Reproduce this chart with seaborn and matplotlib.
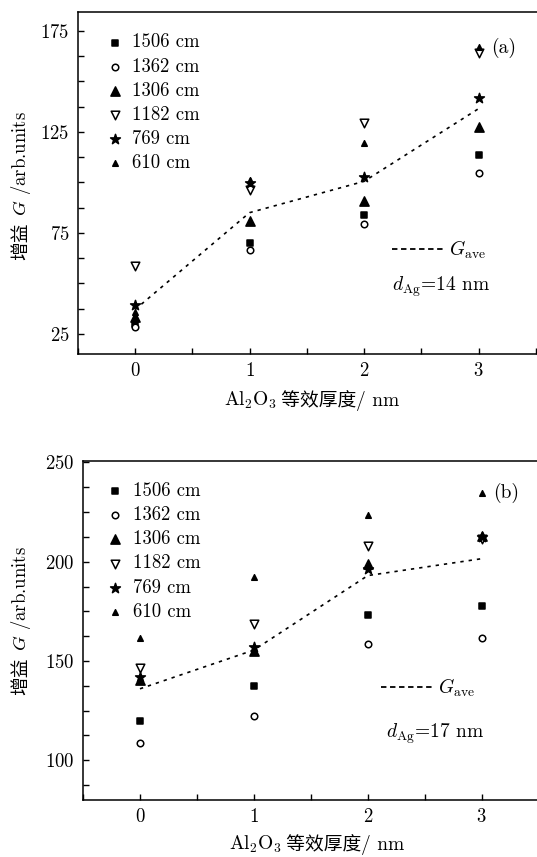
import numpy as np
import pandas as pd
import seaborn as sns
import matplotlib.pyplot as plt
import matplotlib.transforms as mtransforms
from matplotlib.lines import Line2D
from matplotlib.ticker import MultipleLocator

sns.set_style('ticks', {'axes.edgecolor': 'black', 'xtick.color': 'black', 'ytick.color': 'black',
                        'text.color': 'black', 'axes.labelcolor': 'black'})
plt.rcParams['font.family'] = ['cmr10', 'Noto Sans CJK SC']
plt.rcParams['mathtext.fontset'] = 'cm'
plt.rcParams['axes.formatter.use_mathtext'] = True

thickness = [0, 1, 2, 3]
peaks = ['1506', '1362', '1306', '1182', '769', '610']

# (a) d_Ag = 14 nm
g14_1506 = [30, 70, 84, 113.5]
g14_1362 = [28.5, 66.5, 79.5, 104.5]
g14_1306 = [33.5, 81, 91, 127.5]
g14_1182 = [58.5, 96, 129.5, 164]
g14_769 = [39.5, 99.5, 102.5, 142]
g14_610 = [36, 101, 119.5, 167]
gave14 = [37, 85, 100.5, 136.5]

# (b) d_Ag = 17 nm
g17_1506 = [120, 137.5, 173, 177.5]
g17_1362 = [108.5, 122.5, 158.5, 161.5]
g17_1306 = [140.5, 155, 199, 213]
g17_1182 = [146.5, 168.5, 208, 211.5]
g17_769 = [142, 157, 196.5, 212.5]
g17_610 = [161.5, 192.5, 223.5, 234.5]
gave17 = [136, 155.5, 193, 201.5]

yticks14 = [25, 75, 125, 175]
yticks17 = [100, 150, 200, 250]


def long_table(series):
    rows = []
    for p, vals in zip(peaks, series):
        for t, v in zip(thickness, vals):
            rows.append({'thickness': t, 'G': v, 'peak': p})
    return pd.DataFrame(rows)


df14 = long_table([g14_1506, g14_1362, g14_1306, g14_1182, g14_769, g14_610])
df17 = long_table([g17_1506, g17_1362, g17_1306, g17_1182, g17_769, g17_610])

marker_style = {
    '1506': dict(marker='s', s=24, facecolor='black'),
    '1362': dict(marker='o', s=22, facecolor='white'),
    '1306': dict(marker='^', s=44, facecolor='black'),
    '1182': dict(marker='v', s=38, facecolor='white'),
    '769': dict(marker='*', s=55, facecolor='black'),
    '610': dict(marker='^', s=16, facecolor='black'),
}

fig = plt.figure(figsize=(5.37, 8.57), dpi=100)
ax_a = fig.add_axes([0.1448, 0.5869, 0.8743, 0.3994])
ax_b = fig.add_axes([0.1546, 0.0665, 0.8696, 0.3956])

panels = [
    (ax_a, df14, gave14, (15, 184.5), yticks14, '(a)', (3.11, 166.8), r'$d_{\mathrm{Ag}}$=14 nm', (2.24, 48.2),
     (-0.26, 173.7), (2.247, 66.7), (0.275, -0.110), (0.774, -0.152)),
    (ax_b, df17, gave17, (80, 250.7), yticks17, '(b)', (3.105, 234.8), r'$d_{\mathrm{Ag}}$=17 nm', (2.163, 113.6),
     (-0.3, 240), (2.118, 136.4), (0.31, -0.122), (0.78, -0.148)),
]

for (ax, df, gave, ylim, yt, tag, tag_xy, dtext, d_xy, leg_xy, gleg_xy, ylab, xlab) in panels:
    sns.lineplot(x=thickness, y=gave, color='black', linewidth=1.2, linestyle=(0, (2, 3)), ax=ax)
    for p in peaks:
        st = marker_style[p]
        sns.scatterplot(data=df[df.peak == p], x='thickness', y='G', edgecolor='black', linewidth=1.1,
                        label=f'{p} cm', ax=ax, zorder=3, **st)

    ax.set_xlim(-0.5, 3.6)
    ax.set_ylim(*ylim)
    ax.set_xticks(thickness)
    ax.set_yticks(yt)
    ax.xaxis.set_minor_locator(MultipleLocator(0.5))
    ax.yaxis.set_minor_locator(MultipleLocator(12.5))
    ax.tick_params(which='both', direction='in', length=4, width=1, top=False, right=False)
    ax.tick_params(labelsize=13.5, pad=6)
    ax.spines['right'].set_visible(False)
    for s in ['left', 'bottom', 'top']:
        ax.spines[s].set_linewidth(1.1)
    ax.set_xlabel('')
    ax.set_ylabel('')

    handles, labels = ax.get_legend_handles_labels()
    leg1 = ax.legend(handles, labels, loc='upper left', bbox_to_anchor=leg_xy, bbox_transform=ax.transData,
                     frameon=False, fontsize=13.5, borderpad=0, handlelength=1.0, handletextpad=0.45,
                     labelspacing=0.33, borderaxespad=0)
    ax.add_artist(leg1)
    gline = Line2D([], [], color='black', linewidth=1.3, linestyle=(0, (3, 2)))
    ax.legend([gline], [r'$G_{\mathrm{ave}}$'], loc='center left', bbox_to_anchor=gleg_xy,
              bbox_transform=ax.transData, frameon=False, fontsize=14, borderpad=0, handlelength=2.7,
              handletextpad=0.2, borderaxespad=0)

    ax.text(tag_xy[0], tag_xy[1], tag, ha='left', va='center', fontsize=14)
    ax.text(d_xy[0], d_xy[1], dtext, ha='left', va='center', fontsize=14)

    # y label: Chinese part + latin/math part chained along the rotated baseline
    t1 = ax.text(ylab[1], ylab[0], '增益', rotation=90, rotation_mode='anchor', ha='left', va='baseline',
                 transform=ax.transAxes, fontsize=13.5, family='Noto Sans CJK SC')
    ax.annotate(r' $G$ /arb.units', xy=(ylab[1], 1), xycoords=(ax.transAxes, t1), rotation=90,
                rotation_mode='anchor', ha='left', va='baseline', fontsize=13.5)

    # x label
    blend = mtransforms.blended_transform_factory(ax.transData, ax.transAxes)
    x1 = ax.text(xlab[0], xlab[1], r'Al$_2$O$_3$', transform=blend, ha='left', va='baseline', fontsize=14)
    x2 = ax.annotate(' 等效厚度', xy=(1, xlab[1]), xycoords=(x1, ax.transAxes), ha='left', va='baseline',
                     fontsize=13.5, family='Noto Sans CJK SC')
    ax.annotate('/ nm', xy=(1, xlab[1]), xycoords=(x2, ax.transAxes), ha='left', va='baseline', fontsize=14)

fig.savefig('out.png', dpi=100)
